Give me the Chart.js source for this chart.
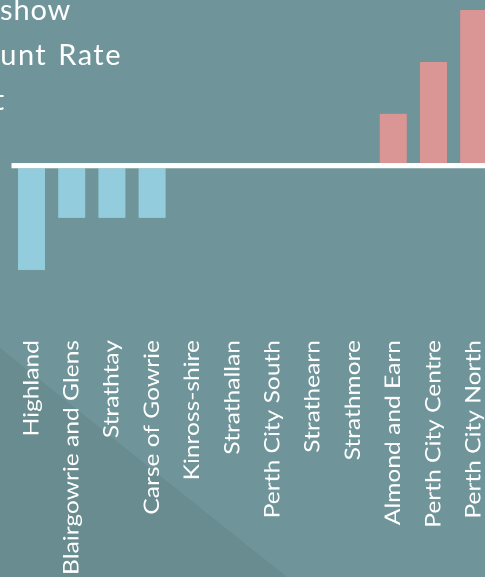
<!DOCTYPE html>
<html>
<head>
<meta charset="utf-8">
<script src="https://cdn.jsdelivr.net/npm/chart.js@4/dist/chart.umd.min.js"></script>
<style>
  html, body { margin: 0; padding: 0; }
  body { width: 485px; height: 577px; overflow: hidden; position: relative; background: #6F959A; font-family: Lato, "Open Sans", sans-serif; }
  #shade { position: absolute; left: 0; top: 0; width: 485px; height: 577px; background: #698C90;
           clip-path: polygon(0 348px, 287px 577px, 0 577px); }
  #wrap { position: absolute; left: 0; top: 0; width: 500px; height: 493px; transform: scaleY(1.17); transform-origin: 0 0; }
  .tl { position: absolute; width: 400px; text-align: right; color: #fff; font-size: 29px; letter-spacing: 0.8px; line-height: 34px; white-space: nowrap; }
</style>
</head>
<body>
<div id="shade"></div>
<div id="wrap"><canvas id="c"></canvas></div>
<div class="tl" style="left:-329px; top:-8px;">Graph to show</div>
<div class="tl" style="left:-278px; top:37px; letter-spacing:1.5px; word-spacing:2px;">Claimant Count Rate</div>
<div class="tl" style="left:-395px; top:82px;">Movement</div>
<script>
const categories = ["Highland", "Blairgowrie and Glens", "Strathtay", "Carse of Gowrie", "Kinross-shire", "Strathallan", "Perth City South", "Strathearn", "Strathmore", "Almond and Earn", "Perth City Centre", "Perth City North"];
const movement = [-2, -1, -1, -1, 0, 0, 0, 0, 0, 1, 2, 3];
const yTicks = [-3, 0, 3];

const NEG = '#93CDDD', POS = '#D99694';

new Chart(document.getElementById('c'), {
  type: 'bar',
  data: {
    labels: categories,
    datasets: [{
      data: movement,
      backgroundColor: movement.map(v => v < 0 ? NEG : POS),
      borderWidth: 0,
      categoryPercentage: 1,
      barPercentage: 0.672
    }]
  },
  options: {
    responsive: true,
    maintainAspectRatio: false,
    animation: false,
    devicePixelRatio: 2,
    layout: { padding: { left: 11.4, right: 6.2, top: 8.5, bottom: 0 } },
    plugins: { legend: { display: false }, tooltip: { enabled: false } },
    scales: {
      x: {
        grid: { display: false, drawTicks: false },
        border: { display: false },
        afterFit: s => { s.height = 217.8; s.paddingLeft = 0; s.paddingRight = 0; },
        ticks: {
          autoSkip: false, minRotation: 90, maxRotation: 90, padding: 15.4,
          color: '#ffffff', font: { family: 'Lato', size: 21 }
        }
      },
      y: {
        min: yTicks[0], max: yTicks[2],
        afterBuildTicks: s => { s.ticks = yTicks.map(v => ({ value: v })); },
        ticks: { display: false },
        border: { display: false },
        grid: {
          z: 1, drawTicks: false,
          color: c => c.tick && c.tick.value === 0 ? '#ffffff' : 'rgba(0,0,0,0)',
          lineWidth: c => c.tick && c.tick.value === 0 ? 4.3 : 0
        }
      }
    }
  }
});
</script>
</body>
</html>
